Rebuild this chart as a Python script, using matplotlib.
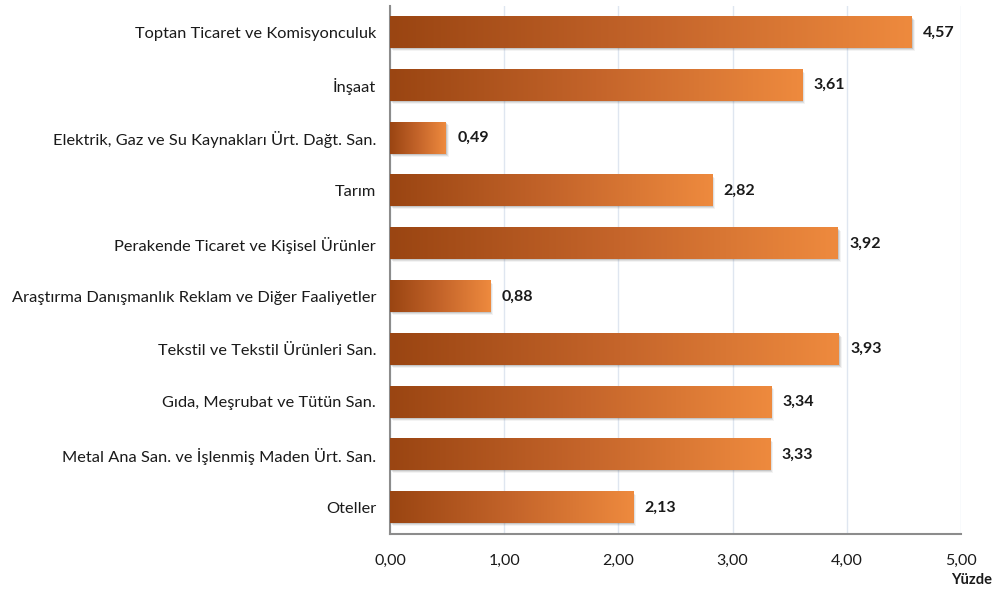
import matplotlib
matplotlib.use("Agg")
import matplotlib.pyplot as plt
import numpy as np
from matplotlib.colors import LinearSegmentedColormap
from matplotlib.patches import Rectangle
import matplotlib.transforms as mtransforms

categories = [
    "Toptan Ticaret ve Komisyonculuk",
    "İnşaat",
    "Elektrik, Gaz ve Su Kaynakları Ürt. Dağt. San.",
    "Tarım",
    "Perakende Ticaret ve Kişisel Ürünler",
    "Araştırma Danışmanlık Reklam ve Diğer Faaliyetler",
    "Tekstil ve Tekstil Ürünleri San.",
    "Gıda, Meşrubat ve Tütün San.",
    "Metal Ana San. ve İşlenmiş Maden Ürt. San.",
    "Oteller",
]
values = [4.57, 3.61, 0.49, 2.82, 3.92, 0.88, 3.93, 3.34, 3.33, 2.13]
xticks = [0, 1, 2, 3, 4, 5]
xtick_labels = ["0,00", "1,00", "2,00", "3,00", "4,00", "5,00"]

plt.rcParams['font.family'] = ['Lato', 'DejaVu Sans']

fig = plt.figure(figsize=(9.97, 5.91), dpi=100)
ax = fig.add_axes([390/997, 1 - 534/591, (961-390)/997, (534-6)/591])

cmap = LinearSegmentedColormap.from_list("g", ["#9a4512", "#c4642a", "#ee8a3e"])
grad = np.linspace(0, 1, 256).reshape(1, -1)

n = len(categories)
ypos = np.arange(n)
h = 0.59
ax.set_xlim(0, 5)
ax.set_ylim(n - 0.5, -0.5)

for y, v in zip(ypos, values):
    # shadow
    for k, a in zip([1, 2, 3], [0.18, 0.12, 0.07]):
        off = mtransforms.offset_copy(ax.transData, fig=fig, x=k, y=-k, units='dots')
        ax.add_patch(Rectangle((0, y - h/2), v, h, transform=off, color="#555555",
                               alpha=a, lw=0, zorder=2))
    ax.imshow(grad, cmap=cmap, aspect='auto', extent=[0, v, y + h/2, y - h/2],
              zorder=3, interpolation='bicubic')
    ax.text(v + 0.1, y, f"{v:.2f}".replace(".", ","), va='center', ha='left',
            fontsize=11.5, fontweight='bold', color="#1a1a1a", zorder=4)

ax.set_xlim(0, 5)
ax.set_ylim(n - 0.5, -0.5)
ax.set_yticks(ypos)
ax.set_yticklabels(categories, fontsize=11.8, color="#1a1a1a")
ax.set_xticks(xticks)
ax.set_xticklabels(xtick_labels, fontsize=11.5, color="#1a1a1a")
ax.tick_params(axis='y', length=0, pad=10)
ax.tick_params(axis='x', length=0, pad=14)
ax.grid(axis='x', color="#dfe6f0", lw=1, zorder=0)
ax.set_axisbelow(True)
for s in ['top', 'right']:
    ax.spines[s].set_visible(False)
for s in ['left', 'bottom']:
    ax.spines[s].set_color("#8c8c8c")
    ax.spines[s].set_linewidth(1.5)

fig.text(992/997, 1 - 580/591, "Yüzde", ha='right', va='center', fontsize=10.5,
         fontweight='bold', color="#1a1a1a")

fig.savefig("out.png", dpi=100)
